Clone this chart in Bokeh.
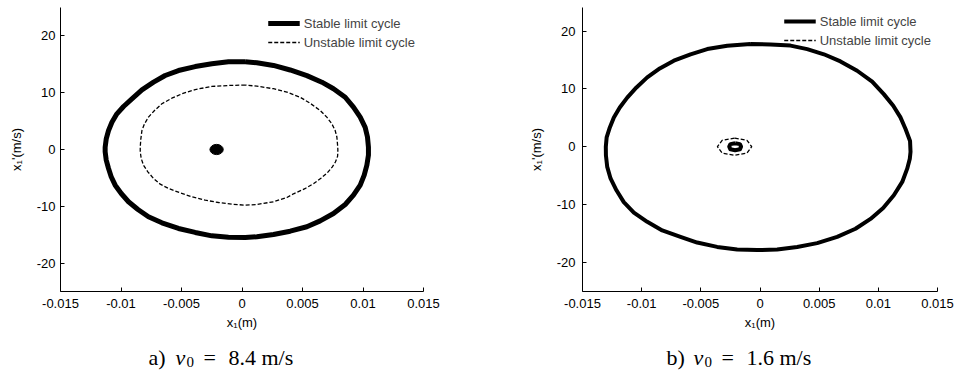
from bokeh.plotting import figure
from bokeh.layouts import row, column
from bokeh.models import FixedTicker, Legend, LegendItem, Range1d
from bokeh.core.properties import value
from bokeh.embed import file_html
from bokeh.resources import INLINE

# ---- data ----
x_ticks = [-0.015, -0.01, -0.005, 0, 0.005, 0.01, 0.015]
x_tick_labels = ["-0.015", "-0.01", "-0.005", "0", "0.005", "0.01", "0.015"]
y_ticks = [-20, -10, 0, 10, 20]
y_tick_labels = ["-20", "-10", "0", "10", "20"]

# panel a) v0 = 8.4 m/s
a_stable_x = [0.00027, -0.00112, -0.00249, -0.00387, -0.00525, -0.00635, -0.00731, -0.00827,
              -0.00910, -0.00979, -0.01034, -0.01075, -0.01103, -0.01122, -0.01131, -0.01131,
              -0.01122, -0.01103, -0.01081, -0.01048, -0.00998, -0.00938, -0.00860, -0.00773,
              -0.00662, -0.00525, -0.00387, -0.00249, -0.00112, 0.00027, 0.00123, 0.00260,
              0.00398, 0.00536, 0.00646, 0.00756, 0.00853, 0.00921, 0.00977, 0.01010,
              0.01032, 0.01045, 0.01045, 0.01037, 0.01018, 0.00977, 0.00921, 0.00853,
              0.00756, 0.00660, 0.00536, 0.00398, 0.00260, 0.00123, 0.00027]
a_stable_y = [15.45, 15.44, 15.1, 14.6, 13.9, 13.03, 11.85, 10.5,
              8.93, 7.57, 6.28, 4.8, 3.35, 1.88, 0.4, -0.4,
              -1.88, -3.35, -4.8, -6.28, -7.75, -9.2, -10.56, -11.85,
              -12.9, -13.9, -14.6, -15.2, -15.44, -15.5, -15.37, -14.96,
              -14.38, -13.6, -12.56, -11.27, -9.68, -8.04, -6.28, -4.5,
              -2.76, -1.0, 0.4, 2.2, 3.9, 5.7, 7.45, 9.2,
              10.7, 11.85, 13.0, 14.0, 14.8, 15.26, 15.45]
a_unstable_x = [0.00027, -0.00112, -0.00250, -0.00387, -0.00497, -0.00580, -0.00662, -0.00723,
                -0.00773, -0.00806, -0.00827, -0.00836, -0.00841, -0.00841, -0.00833, -0.00814,
                -0.00778, -0.00731, -0.00676, -0.00607, -0.00511, -0.00414, -0.00304, -0.00194,
                -0.00084, 0.00027, 0.00123, 0.00260, 0.00371, 0.00426, 0.00520, 0.00593,
                0.00655, 0.00705, 0.00745, 0.00772, 0.00790, 0.00792, 0.00792, 0.00789,
                0.00784, 0.00770, 0.00743, 0.00701, 0.00646, 0.00563, 0.00481, 0.00371,
                0.00260, 0.00123, 0.00027]
a_unstable_y = [11.35, 11.27, 11.1, 10.56, 9.8, 9.03, 8.05, 6.87,
                5.7, 4.52, 3.35, 1.88, 0.4, -0.4, -1.58, -2.76,
                -3.93, -5.1, -6.1, -6.87, -7.63, -8.33, -8.92, -9.33,
                -9.63, -9.8, -9.68, -9.2, -8.45, -7.8, -6.9, -6.0,
                -5.0, -4.1, -3.1, -2.2, -1.2, -0.4, 0.1, 1.0,
                2.2, 3.35, 4.5, 5.7, 6.87, 8.15, 9.2, 10.1,
                10.7, 11.15, 11.35]
a_focus_x = [-0.0021]
a_focus_y = [0.0]
a_focus_w = [0.0011]
a_focus_h = [1.8]

# panel b) v0 = 1.6 m/s
b_stable_x = [-0.00080, -0.00277, -0.00446, -0.00587, -0.00728, -0.00847, -0.00953, -0.01044,
              -0.01122, -0.01185, -0.01235, -0.01269, -0.01296, -0.01303, -0.01302, -0.01291,
              -0.01263, -0.01213, -0.01151, -0.01066, -0.00953, -0.00826, -0.00672, -0.00531,
              -0.00362, -0.00193, -0.00024, 0.00145, 0.00314, 0.00483, 0.00652, 0.00807,
              0.00934, 0.01041, 0.01131, 0.01202, 0.01244, 0.01266, 0.01272, 0.01268,
              0.01230, 0.01187, 0.01126, 0.01046, 0.00948, 0.00821, 0.00680, 0.00540,
              0.00399, 0.00258, 0.00089, -0.00080]
b_stable_y = [17.8, 17.47, 16.9, 16.0, 14.9, 13.55, 12.0, 10.26,
              8.5, 6.8, 5.07, 3.34, 1.6, 0.0, -1.5, -3.5,
              -5.5, -7.55, -9.6, -11.4, -13.0, -14.5, -15.6, -16.6,
              -17.35, -17.8, -17.9, -17.8, -17.35, -16.7, -15.6, -14.2,
              -12.5, -10.6, -8.4, -6.1, -3.8, -2.08, -0.9, 1.0,
              3.06, 5.07, 7.1, 9.1, 11.25, 13.15, 14.76, 16.0,
              16.9, 17.5, 17.7, 17.8]
b_small_stable_x = [-0.0021, -0.0025, -0.0026, -0.0025, -0.0021, -0.0017, -0.0016, -0.0017, -0.0021]
b_small_stable_y = [0.6, 0.45, 0.0, -0.45, -0.6, -0.45, 0.0, 0.45, 0.6]
b_unstable_x = [-0.00215, -0.0032, -0.0036, -0.0032, -0.00215, -0.0011, -0.0007, -0.0011, -0.00215]
b_unstable_y = [1.5, 1.1, 0.0, -1.1, -1.5, -1.1, 0.0, 1.1, 1.5]

legend_labels = ["Stable limit cycle", "Unstable limit cycle"]
caption_tags = ["a)", "b)"]
caption_values = ["8.4 m/s", "1.6 m/s"]

SANS = "Liberation Sans"
SERIF = "Liberation Serif"


def make_fig(border_left, border_right, border_top, label_standoff):
    p = figure(width=483, height=334, output_backend="svg", toolbar_location=None,
               x_range=(-0.015, 0.015), y_range=(-25, 25),
               min_border_left=border_left, min_border_right=border_right,
               min_border_top=border_top, min_border_bottom=43)
    p.outline_line_color = None
    p.grid.visible = False
    p.xaxis.ticker = FixedTicker(ticks=x_ticks)
    p.yaxis.ticker = FixedTicker(ticks=y_ticks)
    p.xaxis.major_label_overrides = {t: s for t, s in zip(x_ticks, x_tick_labels)}
    p.yaxis.major_label_overrides = {t: s for t, s in zip(y_ticks, y_tick_labels)}
    for ax in (p.xaxis[0], p.yaxis[0]):
        ax.major_tick_in = 4
        ax.major_tick_out = 0
        ax.minor_tick_line_color = None
        ax.axis_line_color = "black"
        ax.major_tick_line_color = "black"
        ax.major_label_text_font = SANS
        ax.major_label_text_font_size = "13px"
        ax.major_label_text_color = "black"
        ax.axis_label_text_font = SANS
        ax.axis_label_text_font_size = "13px"
        ax.axis_label_text_font_style = "normal"
        ax.axis_label_text_color = "black"
    p.xaxis.major_label_standoff = 7
    p.yaxis.major_label_standoff = label_standoff
    p.xaxis.axis_label = "x\u2081(m)"
    p.yaxis.axis_label = "x\u2081'(m/s)"
    p.xaxis.axis_label_standoff = 4
    p.yaxis.axis_label_standoff = 10
    return p


def add_legend(p, r_stable, r_unstable, pad, marg):
    leg = Legend(items=[LegendItem(label=legend_labels[0], renderers=[r_stable]),
                        LegendItem(label=legend_labels[1], renderers=[r_unstable])],
                 location="top_right", border_line_color=None, background_fill_alpha=0,
                 label_text_font=SANS, label_text_font_size="13px", label_standoff=4,
                 glyph_width=32, glyph_height=16, label_height=16, spacing=3,
                 padding=pad, margin=marg)
    p.add_layout(leg)


def make_caption(idx, start):
    c = figure(width=483, height=38, output_backend="svg", toolbar_location=None,
               x_range=(0, 483), y_range=(0, 38), x_axis_type=None, y_axis_type=None,
               min_border=0)
    c.outline_line_color = None
    c.grid.visible = False
    common = dict(text_font=value(SERIF), text_color="black", text_baseline="alphabetic")
    base = 15
    c.text(x=[start], y=[base], text=[caption_tags[idx]], text_font_size="22px", **common)
    c.text(x=[start + 27], y=[base], text=["v"], text_font_size="22px",
           text_font_style="italic", **common)
    c.text(x=[start + 38], y=[base - 4], text=["0"], text_font_size="15px", **common)
    c.text(x=[start + 55], y=[base], text=["="], text_font_size="22px", **common)
    c.text(x=[start + 80], y=[base], text=[caption_values[idx]], text_font_size="22px", **common)
    return c


# ---- panel a ----
pa = make_fig(60, 60, 7, 5)
ra_s = pa.line(a_stable_x, a_stable_y, line_color="black", line_width=5, line_join="round")
ra_u = pa.line(a_unstable_x, a_unstable_y, line_color="black", line_width=1.3, line_dash="4 2")
pa.ellipse(x=a_focus_x, y=a_focus_y, width=a_focus_w, height=a_focus_h,
           fill_color="black", line_color="black")
add_legend(pa, ra_s, ra_u, 9, 8)

# ---- panel b ----
pb = make_fig(99, 29, 7, 7)
# the right panel's frame is a little taller in the original; its vertical scale is matched here
pb.y_range = Range1d(-25.07, 24.1)
rb_s = pb.line(b_stable_x, b_stable_y, line_color="black", line_width=4, line_join="round")
pb.line(b_small_stable_x, b_small_stable_y, line_color="black", line_width=4, line_join="round")
rb_u = pb.line(b_unstable_x, b_unstable_y, line_color="black", line_width=1.3, line_dash="4 2")
add_legend(pb, rb_s, rb_u, 9, 6)

ca = make_caption(0, 148)
cb = make_caption(1, 183)

layout = column(row(pa, pb), row(ca, cb))
open("out.html", "w").write(file_html(layout, INLINE))
